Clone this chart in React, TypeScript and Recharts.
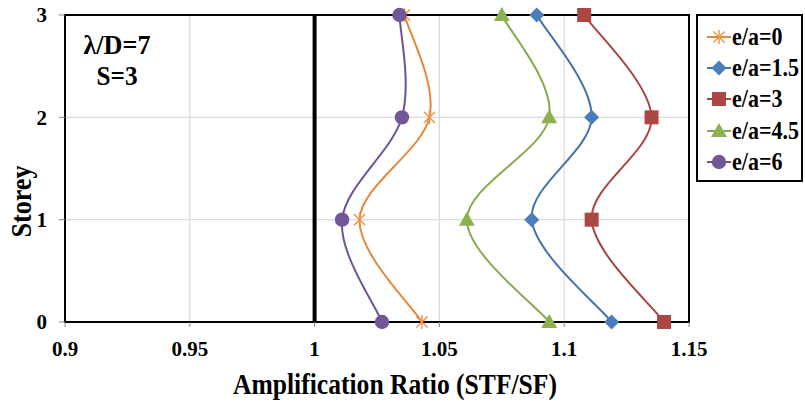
import React from "react"
import {
  ScatterChart,
  Scatter,
  XAxis,
  YAxis,
  CartesianGrid,
  ReferenceLine,
  ReferenceArea,
  Legend,
  Customized,
} from "recharts"

const storeys = [0, 1, 2, 3]
const ratioE0 = [1.043, 1.018, 1.046, 1.036]
const ratioE15 = [1.119, 1.087, 1.111, 1.089]
const ratioE3 = [1.14, 1.111, 1.135, 1.108]
const ratioE45 = [1.094, 1.061, 1.094, 1.075]
const ratioE6 = [1.027, 1.011, 1.035, 1.034]

const xTicks = [0.9, 0.95, 1, 1.05, 1.1, 1.15]
const yTicks = [0, 1, 2, 3]

const FONT = '"Liberation Serif", "Times New Roman", serif'

type MarkerKind = "star" | "diamond" | "square" | "triangle" | "circle"

const seriesList: { name: string; values: number[]; line: string; fill: string; marker: MarkerKind }[] = [
  { name: "e/a=0", values: ratioE0, line: "#E4883C", fill: "#F09244", marker: "star" },
  { name: "e/a=1.5", values: ratioE15, line: "#4672AA", fill: "#4A7DBB", marker: "diamond" },
  { name: "e/a=3", values: ratioE3, line: "#A94643", fill: "#AD4744", marker: "square" },
  { name: "e/a=4.5", values: ratioE45, line: "#89AA4E", fill: "#8DB150", marker: "triangle" },
  { name: "e/a=6", values: ratioE6, line: "#6E5495", fill: "#725797", marker: "circle" },
]

// Excel-like smoothed line (Catmull-Rom through the points)
const smoothCurve = (context: any) => {
  let pts: [number, number][] = []
  return {
    areaStart() {},
    areaEnd() {},
    lineStart() {
      pts = []
    },
    point(x: number, y: number) {
      pts.push([+x, +y])
    },
    lineEnd() {
      if (!pts.length) return
      context.moveTo(pts[0][0], pts[0][1])
      for (let i = 0; i < pts.length - 1; i++) {
        const p0 = pts[i - 1] || pts[i]
        const p1 = pts[i]
        const p2 = pts[i + 1]
        const p3 = pts[i + 2] || p2
        context.bezierCurveTo(
          p1[0] + (p2[0] - p0[0]) / 6,
          p1[1] + (p2[1] - p0[1]) / 6,
          p2[0] - (p3[0] - p1[0]) / 6,
          p2[1] - (p3[1] - p1[1]) / 6,
          p2[0],
          p2[1]
        )
      }
    },
  }
}

function MarkerShape({ cx, cy, kind, color }: { cx: number; cy: number; kind: MarkerKind; color: string }) {
  if (cx == null || cy == null) return null
  switch (kind) {
    case "star": {
      const r = 7
      const d = r * 0.8
      return (
        <g stroke={color} strokeWidth={1.4}>
          <line x1={cx} y1={cy - r} x2={cx} y2={cy + r} />
          <line x1={cx - d} y1={cy - d} x2={cx + d} y2={cy + d} />
          <line x1={cx - d} y1={cy + d} x2={cx + d} y2={cy - d} />
        </g>
      )
    }
    case "diamond": {
      const r = 7.5
      return <path d={`M${cx},${cy - r}L${cx + r},${cy}L${cx},${cy + r}L${cx - r},${cy}Z`} fill={color} />
    }
    case "square":
      return <rect x={cx - 7} y={cy - 7} width={14} height={14} fill={color} />
    case "triangle": {
      const r = 8
      return <path d={`M${cx},${cy - r}L${cx + r},${cy + r * 0.75}L${cx - r},${cy + r * 0.75}Z`} fill={color} />
    }
    default:
      return <circle cx={cx} cy={cy} r={7.2} fill={color} />
  }
}

function LegendBox() {
  return (
    <div
      style={{
        border: "2px solid #000",
        boxSizing: "border-box",
        width: 107,
        height: 168,
        padding: "5px 0 0 9px",
        fontFamily: FONT,
        fontWeight: "bold",
        fontSize: 22,
        background: "#fff",
      }}
    >
      {seriesList.map((s) => (
        <div key={s.name} style={{ display: "flex", alignItems: "center", height: 31.3 }}>
          <svg width={24} height={18} style={{ marginRight: 1 }}>
            <line x1={0} y1={9} x2={24} y2={9} stroke={s.line} strokeWidth={2} />
            <MarkerShape cx={12} cy={9} kind={s.marker} color={s.fill} />
          </svg>
          <span style={{ lineHeight: "22px", display: "inline-block", transform: "scaleY(1.12)" }}>{s.name}</span>
        </div>
      ))}
    </div>
  )
}

export default function App() {
  return (
    <div style={{ position: "absolute", left: 0, top: 0, background: "#fff" }}>
      <ScatterChart width={805} height={403} margin={{ top: 15, right: 116, bottom: 11, left: 8 }}>
        <CartesianGrid stroke="#D9D9D9" strokeWidth={1.2} />
        <XAxis
          type="number"
          dataKey="x"
          domain={[0.9, 1.15]}
          ticks={xTicks}
          height={70}
          axisLine={{ stroke: "#000", strokeWidth: 2 }}
          tickLine={{ stroke: "#888" }}
          tickSize={5}
          tickMargin={14}
          tick={{ fill: "#000", fontSize: 21, fontWeight: "bold", fontFamily: FONT }}
          label={{
            content: (props: any) => {
              const vb = props.viewBox || {}
              return (
                <text
                  x={vb.x + vb.width / 2 + 18}
                  y={vb.y + 72}
                  textAnchor="middle"
                  fontFamily={FONT}
                  fontWeight="bold"
                  fontSize={29}
                  textLength={324}
                  lengthAdjust="spacingAndGlyphs"
                  fill="#000"
                >
                  Amplification Ratio (STF/SF)
                </text>
              )
            },
          }}
        />
        <YAxis
          type="number"
          dataKey="y"
          domain={[0, 3]}
          ticks={yTicks}
          width={57}
          axisLine={{ stroke: "#000", strokeWidth: 2 }}
          tickLine={{ stroke: "#888" }}
          tickSize={6}
          tickMargin={12}
          tick={{ fill: "#000", fontSize: 21, fontWeight: "bold", fontFamily: FONT }}
          label={{
            content: (props: any) => {
              const vb = props.viewBox || {}
              const cy = vb.y + vb.height / 2 + 33
              return (
                <text
                  x={31}
                  y={cy}
                  transform={`rotate(-90, 31, ${cy})`}
                  textAnchor="middle"
                  fontFamily={FONT}
                  fontWeight="bold"
                  fontSize={29}
                  textLength={72}
                  lengthAdjust="spacingAndGlyphs"
                  fill="#000"
                >
                  Storey
                </text>
              )
            },
          }}
        />
        <ReferenceArea x1={0.9} x2={1.15} y1={0} y2={3} fill="none" stroke="#000" strokeWidth={2} fillOpacity={0} />
        <ReferenceLine x={1} stroke="#000" strokeWidth={4} />
        {seriesList.map((s) => (
          <Scatter
            key={s.name}
            name={s.name}
            data={storeys.map((st, i) => ({ x: s.values[i], y: st }))}
            line={{ stroke: s.line, strokeWidth: 2 }}
            lineType="joint"
            lineJointType={smoothCurve as any}
            shape={(p: any) => <MarkerShape cx={p.cx} cy={p.cy} kind={s.marker} color={s.fill} />}
            isAnimationActive={false}
          />
        ))}
        <Customized
          component={() => (
            <g fontFamily={FONT} fontWeight="bold" fontSize={28} fill="#000" textAnchor="middle">
              <text x={117} y={54} textLength={67} lengthAdjust="spacingAndGlyphs">λ/D=7</text>
              <text x={117} y={85} textLength={41} lengthAdjust="spacingAndGlyphs">S=3</text>
            </g>
          )}
        />
        <Legend
          layout="vertical"
          align="center"
          verticalAlign="middle"
          content={() => <LegendBox />}
          wrapperStyle={{ position: "absolute", left: 696, top: 14, width: 107, height: 168 }}
        />
      </ScatterChart>
    </div>
  )
}
